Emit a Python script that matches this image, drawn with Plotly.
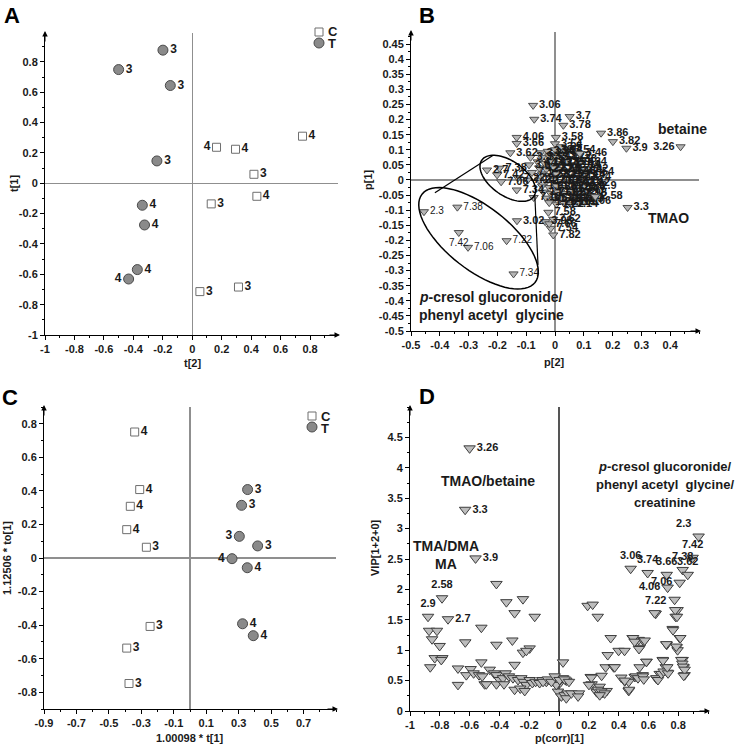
import math
import plotly.graph_objects as go

W, H = 740, 750
FONT = "Liberation Sans, Arial, sans-serif"
INK = "#1a1a1a"

# ---------------- Panel A : scores t[2] vs t[1] ----------------
a_T_x = [-0.199, -0.5, -0.149, -0.24, -0.339, -0.324, -0.373, -0.432]
a_T_y = [0.877, 0.749, 0.644, 0.147, -0.145, -0.275, -0.569, -0.631]
a_T_lab = ["3", "3", "3", "3", "4", "4", "4", "4"]
a_T_pos = ["middle right"] * 7 + ["middle left"]
a_C_x = [0.749, 0.165, 0.294, 0.419, 0.439, 0.129, 0.052, 0.314]
a_C_y = [0.31, 0.237, 0.224, 0.059, -0.086, -0.136, -0.714, -0.684]
a_C_lab = ["4", "4", "4", "3", "4", "3", "3", "3"]
a_C_pos = ["middle right", "middle left"] + ["middle right"] * 6

# ---------------- Panel B : loadings p[2] vs p[1] ----------------
b_x = [-0.076, -0.072, 0.051, 0.029, 0.003, -0.133, -0.133, -0.155, 0.086, 0.16,
       0.201, 0.248, 0.436, 0.252, 0.14,
       -0.236, -0.193, -0.201, -0.187, -0.129, -0.133, -0.074,
       -0.132, -0.034, -0.023, -0.006, -0.015, -0.006, -0.02]
b_y = [0.247, 0.201, 0.21, 0.181, 0.141, 0.141, 0.121, 0.09, 0.088, 0.155,
       0.127, 0.105, 0.110, -0.091, -0.055,
       0.033, 0.039, 0.017, -0.006, 0.007, -0.033, -0.058,
       -0.135, -0.138, -0.107, -0.13, -0.16, -0.182, -0.145]
b_lab = ["3.06", "3.74", "3.7", "3.78", "3.58", "4.06", "3.66", "3.62", "3.46", "3.86",
         "3.82", "3.9", "3.26", "3.3", "2.58",
         "2.7", "7.38", "7.42", "7.06", "7.22", "7.34", "7.18",
         "3.02", "3.98", "7.58", "7.62", "7.54", "7.82", "7.66"]
b_pos = ["middle right"] * 12 + ["middle left"] + ["middle right"] * 16

# dense cluster around the origin
bc_x = [-0.05, -0.025, 0.0, 0.025, 0.045,
        -0.045, -0.02, 0.005, 0.03, 0.05,
        -0.06, -0.035, -0.01, 0.015, 0.04, 0.06,
        -0.055, -0.03, -0.005, 0.02, 0.045, 0.07, 0.09,
        -0.045, -0.02, 0.005, 0.03, 0.055, 0.08, 0.1,
        -0.055, -0.03, -0.005, 0.02, 0.045, 0.07, 0.095,
        -0.045, -0.02, 0.005, 0.03, 0.055, 0.08, 0.1,
        -0.04, -0.015, 0.01, 0.035, 0.06, 0.085, 0.1,
        -0.03, -0.005, 0.02, 0.045, 0.07, 0.095,
        -0.02, 0.005, 0.03, 0.055, 0.08, 0.1,
        -0.085, -0.09, -0.08, -0.095, 0.0, 0.02, 0.065, 0.085, 0.11, 0.14]
bc_y = [0.09, 0.095, 0.1, 0.095, 0.1,
        0.075, 0.08, 0.075, 0.08, 0.07,
        0.06, 0.055, 0.06, 0.055, 0.06, 0.05,
        0.04, 0.035, 0.04, 0.035, 0.03, 0.03, 0.035,
        0.02, 0.015, 0.02, 0.015, 0.01, 0.015, 0.01,
        0.0, -0.005, 0.0, -0.005, -0.01, -0.005, -0.01,
        -0.02, -0.025, -0.02, -0.025, -0.03, -0.025, -0.02,
        -0.04, -0.045, -0.04, -0.045, -0.05, -0.045, -0.04,
        -0.06, -0.065, -0.06, -0.065, -0.06, -0.065,
        -0.075, -0.08, -0.075, -0.08, -0.075, -0.07,
        0.075, 0.05, 0.025, 0.0, 0.12, 0.11, 0.05, 0.06, 0.026, -0.022]
bc_lab = ["3.22", "3.98", "3.94", "4.1", "3.54",
          "3.5", "3.42", "3.34", "3.22", "3.38",
          "4.14", "4.02", "3.18", "3.1", "3.14", "2.94",
          "4.22", "2.62", "2.66", "2.5", "2.46", "2.54", "2.42",
          "2.38", "2.34", "2.26", "2.22", "2.18", "2.14", "2.74",
          "2.1", "2.06", "2.02", "1.98", "1.94", "2.78", "2.82",
          "1.9", "1.86", "1.82", "1.78", "1.74", "2.86", "2.9",
          "1.7", "1.66", "1.62", "1.58", "1.54", "2.98", "2.7",
          "1.5", "1.46", "1.42", "1.38", "1.34", "1.3",
          "1.26", "1.22", "1.18", "1.14", "1.1", "1.06",
          "3.3", "3.6", "7.1", "7.14", "3.54", "3.5", "3.14", "1.34", "2.54", "2.9"]

# points in the large ellipse (smaller, regular-weight labels)
bs_x = [-0.455, -0.339, -0.334, -0.302, -0.168, -0.144]
bs_y = [-0.105, -0.09, -0.174, -0.223, -0.201, -0.311]
bs_lab = ["2.3", "7.38", "7.42", "7.06", "7.22", "7.34"]
bs_pos = ["middle right", "middle right", "bottom center", "middle right", "middle right", "middle right"]

# ---------------- Panel C : t[1] vs to[1] ----------------
c_C_x = [-0.341, -0.31, -0.368, -0.39, -0.269, -0.246, -0.39, -0.376]
c_C_y = [0.751, 0.408, 0.308, 0.169, 0.064, -0.408, -0.537, -0.748]
c_C_lab = ["4", "4", "4", "4", "3", "3", "3", "3"]
c_C_pos = ["middle right"] * 8
c_T_x = [0.355, 0.318, 0.304, 0.417, 0.259, 0.353, 0.324, 0.39]
c_T_y = [0.408, 0.314, 0.129, 0.072, -0.004, -0.058, -0.392, -0.463]
c_T_lab = ["3", "3", "3", "3", "4", "4", "4", "4"]
c_T_pos = ["middle right", "middle right", "middle left", "middle right",
           "middle left", "middle right", "middle right", "middle right"]

# ---------------- Panel D : p(corr)[1] vs VIP ----------------
d_x = [-0.60, -0.63, -0.56, -0.785, -0.879, -0.745,
       0.937, 0.897, 0.481, 0.595, 0.723, 0.83, 0.864, 0.81, 0.729, 0.649,
       -0.42, -0.353, -0.242, -0.298, -0.163, -0.521, -0.872, -0.819, -0.852, -0.801,
       -0.629, -0.42, -0.313, -0.197, -0.242, -0.219, -0.834, -0.783, -0.79, -0.864,
       -0.521, -0.298, -0.678, -0.678,
       -0.593, -0.622, -0.573, -0.537, -0.515, -0.499, -0.465, -0.436, -0.42, -0.398,
       -0.376, -0.358, -0.336, -0.309, -0.275, -0.253, -0.237, -0.219, -0.197, -0.179,
       -0.157, -0.13, -0.112, -0.085, -0.063, -0.036, -0.013, 0.009, 0.027, 0.049,
       -0.298, -0.26, -0.23, -0.42, -0.369, -0.488,
       -0.007, 0.016, 0.038, 0.06, 0.027,
       0.776, 0.796, 0.783, 0.763, 0.81, 0.723, 0.79, 0.796, 0.83, 0.837, 0.843,
       0.696, 0.716, 0.729, 0.676, 0.655,
       0.588, 0.541, 0.561, 0.508, 0.441, 0.468,
       0.347, 0.494, 0.535, 0.568, 0.4, 0.44, 0.541,
       0.327, 0.313, 0.367, 0.286, 0.213, 0.219, 0.293, 0.253, 0.32, 0.468, 0.273,
       0.192, 0.226, 0.26,
       0.497, 0.508, 0.575, 0.537, 0.374, 0.217, 0.201, 0.586,
       0.418, 0.441, 0.47, 0.515, 0.53, 0.564, 0.569,
       0.653, 0.664, 0.687, 0.702, 0.732, 0.727, 0.698,
       0.72, 0.787, 0.814, 0.765, 0.78, 0.792, 0.642,
       0.821, 0.828, 0.832, 0.843, 0.837,
       0.262, 0.284, 0.306, 0.273,
       -0.018, 0.049, 0.083, 0.134, 0.128, -0.107, -0.074, -0.051, -0.029, 0.004, 0.038, 0.067]
d_y = [4.32, 3.31, 2.51, 1.855, 1.55, 1.51,
       2.87, 2.52, 2.34, 2.27, 2.24, 2.32, 2.24, 2.11, 2.03, 1.6,
       2.09, 1.79, 1.84, 1.61, 1.55, 1.37, 1.32, 1.32, 1.18, 1.07,
       1.13, 1.09, 1.16, 1.03, 0.96, 0.99, 0.87, 0.87, 0.84, 0.72,
       0.8, 0.76, 0.7, 0.43,
       0.69, 0.59, 0.62, 0.59, 0.57, 0.44, 0.68, 0.62, 0.59, 0.51,
       0.54, 0.62, 0.57, 0.54, 0.51, 0.54, 0.48, 0.43, 0.51, 0.46,
       0.48, 0.46, 0.51, 0.48, 0.51, 0.48, 0.51, 0.47, 0.54, 0.5,
       0.35, 0.37, 0.33, 0.44, 0.44, 0.44,
       0.32, 0.24, 0.26, 0.29, 0.8,
       1.83, 1.66, 1.55, 1.35, 1.2, 1.09, 1.05, 1.0, 0.84, 0.72, 0.59,
       0.84, 0.72, 0.63, 0.61, 0.53,
       0.81, 0.72, 0.59, 0.56, 0.49, 0.48,
       1.2, 1.2, 1.17, 1.15, 0.99, 0.99, 1.04,
       0.92, 0.72, 0.72, 0.58, 0.56, 0.44, 0.3, 0.31, 0.33, 0.33, 0.4,
       1.73, 1.75, 1.55,
       1.2, 1.14, 1.16, 1.02, 0.72, 0.55, 0.43, 0.81,
       0.55, 0.5, 0.35, 0.57, 0.54, 0.57, 0.52,
       0.54, 0.51, 0.61, 0.65, 0.62, 0.72, 0.83,
       1.1, 1.06, 1.2, 1.33, 1.66, 1.55, 1.61,
       0.84, 0.78, 0.73, 0.68, 0.58,
       0.35, 0.32, 0.29, 0.26,
       0.43, 0.21, 0.29, 0.29, 0.24, 0.48, 0.52, 0.48, 0.57, 0.51, 0.52, 0.48]
d_lab_named = ["3.26", "3.3", "3.9", "2.58", "2.9", "2.7",
               "2.3", "7.42", "3.06", "3.74", "3.66", "7.38", "3.62", "7.06", "4.06", "7.22"]
d_pos_named = ["middle right", "middle right", "middle right", "top center", "top center", "middle right",
               "top left", "top center", "top center", "top center", "top center", "top center",
               "top center", "middle left", "middle left", "top center"]
d_lab = d_lab_named + [""] * (len(d_x) - len(d_lab_named))
d_pos = d_pos_named + ["middle right"] * (len(d_x) - len(d_lab_named))

# ---------------- tick labels ----------------
a_ticks = [-1, -0.8, -0.6, -0.4, -0.2, 0, 0.2, 0.4, 0.6, 0.8]
a_ticktext = ["-1", "-0.8", "-0.6", "-0.4", "-0.2", "0", "0.2", "0.4", "0.6", "0.8"]
b_xticks = [-0.5, -0.4, -0.3, -0.2, -0.1, 0, 0.1, 0.2, 0.3, 0.4]
b_xtext = ["-0.5", "-0.4", "-0.3", "-0.2", "-0.1", "0", "0.1", "0.2", "0.3", "0.4"]
b_yticks = [-0.5, -0.45, -0.4, -0.35, -0.3, -0.25, -0.2, -0.15, -0.1, -0.05, 0,
            0.05, 0.1, 0.15, 0.2, 0.25, 0.3, 0.35, 0.4, 0.45]
b_ytext = ["-0.5", "-0.45", "-0.4", "-0.35", "-0.3", "-0.25", "-0.2", "-0.15", "-0.1", "-0.05", "0",
           "0.05", "0.1", "0.15", "0.2", "0.25", "0.3", "0.35", "0.4", "0.45"]
c_xticks = [-0.9, -0.7, -0.5, -0.3, -0.1, 0.1, 0.3, 0.5, 0.7]
c_xtext = ["-0.9", "-0.7", "-0.5", "-0.3", "-0.1", "0.1", "0.3", "0.5", "0.7"]
c_yticks = [-0.8, -0.6, -0.4, -0.2, 0, 0.2, 0.4, 0.6, 0.8]
c_ytext = ["-0.8", "-0.6", "-0.4", "-0.2", "0", "0.2", "0.4", "0.6", "0.8"]
d_xticks = a_ticks
d_xtext = a_ticktext
d_yticks = [0, 0.5, 1, 1.5, 2, 2.5, 3, 3.5, 4, 4.5]
d_ytext = ["0", "0.5", "1", "1.5", "2", "2.5", "3", "3.5", "4", "4.5"]

# ---------------- layout geometry (pixels) ----------------
DOM = {
    "A": dict(x=(45, 338), y=(33, 335), xr=(-1, 0.99), yr=(-1, 0.99)),
    "B": dict(x=(411, 699), y=(32, 331), xr=(-0.5, 0.5), yr=(-0.5, 0.49)),
    "C": dict(x=(44, 336), y=(407, 709), xr=(-0.9, 0.9), yr=(-0.9, 0.9)),
    "D": dict(x=(410, 708), y=(407, 711), xr=(-1, 1.0), yr=(0, 5)),
}


def px(x):
    return x / W


def py(y):
    return 1 - y / H


tickfont = dict(family=FONT, size=11, color=INK, weight="bold")


def make_axis(dom, rng, tv, tt, anchor, minor_dt, zcol="#8f8f8f", zw=1.3):
    return dict(
        domain=dom, range=list(rng), tickmode="array", tickvals=tv, ticktext=tt,
        showline=True, linecolor="black", linewidth=1, ticks="outside", ticklen=4,
        tickcolor="black", tickwidth=1, showgrid=False, zeroline=True,
        zerolinecolor=zcol, zerolinewidth=zw, tickfont=tickfont, anchor=anchor,
        fixedrange=True, automargin=False,
        minor=dict(ticks="outside", ticklen=2, tickcolor="black", dtick=minor_dt, tick0=0, showgrid=False),
    )


layout = dict(width=W, height=H, margin=dict(l=0, r=0, t=0, b=0, pad=0, autoexpand=False),
              plot_bgcolor="white", paper_bgcolor="white", showlegend=False,
              font=dict(family=FONT, color=INK), template="none")

names = ["A", "B", "C", "D"]
xt = {"A": (a_ticks, a_ticktext), "B": (b_xticks, b_xtext), "C": (c_xticks, c_xtext), "D": (d_xticks, d_xtext)}
yt = {"A": (a_ticks, a_ticktext), "B": (b_yticks, b_ytext), "C": (c_yticks, c_ytext), "D": (d_yticks, d_ytext)}
xminor = {"A": 0.1, "B": 0.05, "C": 0.1, "D": 0.1}
yminor = {"A": 0.1, "B": 0.025, "C": 0.1, "D": 0.25}
for i, n in enumerate(names, start=1):
    g = DOM[n]
    xd = [px(g["x"][0]), px(g["x"][1])]
    yd = [py(g["y"][1]), py(g["y"][0])]
    sfx = "" if i == 1 else str(i)
    zc = "#555555" if n == "D" else "#8f8f8f"
    layout["xaxis" + sfx] = make_axis(xd, g["xr"], *xt[n], "y" + sfx, xminor[n], zcol=zc, zw=1.5 if n == "D" else 1.3)
    layout["yaxis" + sfx] = make_axis(yd, g["yr"], *yt[n], "x" + sfx, yminor[n])

fig = go.Figure(layout=layout)

circ = dict(symbol="circle", size=10, color="#8a8a8a", line=dict(color="#4a4a4a", width=1))
sq = dict(symbol="square", size=8, color="white", line=dict(color="#6e6e6e", width=1))
tri_b = dict(symbol="triangle-down", size=8, color="#b5b5b5", line=dict(color="#4d4d4d", width=1))
tri_d = dict(symbol="triangle-down", size=10, color="#bdbdbd", line=dict(color="#3d3d3d", width=1))
lab11 = dict(family=FONT, size=11, color=INK, weight="bold")
lab12 = dict(family=FONT, size=12, color=INK, weight="bold")

# A
fig.add_trace(go.Scatter(x=a_C_x, y=a_C_y, mode="markers+text", text=a_C_lab, textposition=a_C_pos,
                         marker=sq, textfont=lab12, xaxis="x", yaxis="y", cliponaxis=False, name="C"))
fig.add_trace(go.Scatter(x=a_T_x, y=a_T_y, mode="markers+text", text=a_T_lab, textposition=a_T_pos,
                         marker=circ, textfont=lab12, xaxis="x", yaxis="y", cliponaxis=False, name="T"))
# B
fig.add_trace(go.Scatter(x=bc_x, y=bc_y, mode="markers+text", text=bc_lab, textposition="middle right",
                         marker=tri_b, textfont=lab11, xaxis="x2", yaxis="y2", cliponaxis=False))
fig.add_trace(go.Scatter(x=b_x, y=b_y, mode="markers+text", text=b_lab, textposition=b_pos,
                         marker=tri_b, textfont=lab11, xaxis="x2", yaxis="y2", cliponaxis=False))
fig.add_trace(go.Scatter(x=bs_x, y=bs_y, mode="markers+text", text=bs_lab, textposition=bs_pos,
                         marker=tri_b, textfont=dict(family=FONT, size=10, color=INK),
                         xaxis="x2", yaxis="y2", cliponaxis=False))
# C
fig.add_trace(go.Scatter(x=c_C_x, y=c_C_y, mode="markers+text", text=c_C_lab, textposition=c_C_pos,
                         marker=sq, textfont=lab12, xaxis="x3", yaxis="y3", cliponaxis=False))
fig.add_trace(go.Scatter(x=c_T_x, y=c_T_y, mode="markers+text", text=c_T_lab, textposition=c_T_pos,
                         marker=circ, textfont=lab12, xaxis="x3", yaxis="y3", cliponaxis=False))
# D
fig.add_trace(go.Scatter(x=d_x, y=d_y, mode="markers+text", text=d_lab, textposition=d_pos,
                         marker=tri_d, textfont=lab11, xaxis="x4", yaxis="y4", cliponaxis=False))

ann = []
shapes = []


def note(x, y, text, font, xref="paper", yref="paper", xanchor="center", angle=0):
    return dict(x=x, y=y, xref=xref, yref=yref, text=text, showarrow=False, font=font,
                xanchor=xanchor, yanchor="middle", textangle=angle)


# axis arrows
for n in names:
    g = DOM[n]
    x0, x1 = g["x"]
    y0, y1 = g["y"]
    ann.append(dict(x=px(x1 + 2), y=py(y1), xref="paper", yref="paper", ax=-12, ay=0, text="",
                    showarrow=True, arrowhead=2, arrowsize=1.1, arrowwidth=1, arrowcolor="black"))
    ann.append(dict(x=px(x0), y=py(y0 - 2), xref="paper", yref="paper", ax=0, ay=12, text="",
                    showarrow=True, arrowhead=2, arrowsize=1.1, arrowwidth=1, arrowcolor="black"))

# panel letters
for letter, (lx, ly) in {"A": (12, 15), "B": (427, 15), "C": (10, 397), "D": (427, 396)}.items():
    ann.append(note(px(lx), py(ly), letter, dict(family=FONT, size=22, color="black", weight="bold")))

# axis titles
tfont = dict(family=FONT, size=11, color=INK, weight="bold")
for txt, (tx, ty), ang in [("t[1]", (14, 184), -90), ("t[2]", (192, 363), 0),
                           ("p[1]", (368, 180), -90), ("p[2]", (554, 362), 0),
                           ("1.12506 * to[1]", (7, 558), -90), ("1.00098 * t[1]", (190, 738), 0),
                           ("VIP[1+2+0]", (375, 548), -90), ("p(corr)[1]", (559, 738), 0)]:
    ann.append(note(px(tx), py(ty), txt, tfont, angle=ang))

# legends (A and C)
lfont = dict(family=FONT, size=13, color=INK, weight="bold")
for (sx, sy), (cx_, cy_) in [((319, 32), (319, 43)), ((312, 416), (312, 427))]:
    shapes.append(dict(type="rect", xref="paper", yref="paper", x0=px(sx - 4), x1=px(sx + 4),
                       y0=py(sy + 4), y1=py(sy - 4), line=dict(color="#6e6e6e", width=1), fillcolor="white"))
    shapes.append(dict(type="circle", xref="paper", yref="paper", x0=px(cx_ - 5), x1=px(cx_ + 5),
                       y0=py(cy_ + 5), y1=py(cy_ - 5), line=dict(color="#4a4a4a", width=1), fillcolor="#8a8a8a"))
    ann.append(note(px(sx + 7), py(sy), "C", lfont, xanchor="left"))
    ann.append(note(px(cx_ + 7), py(cy_ + 1), "T", lfont, xanchor="left"))

# panel B text annotations
bfont = dict(family=FONT, size=14, color=INK, weight="bold")
dfont = dict(family=FONT, size=13, color=INK, weight="bold")
ann += [
    note(0.441, 0.169, "betaine", bfont, "x2", "y2"),
    note(0.393, -0.127, "TMAO", bfont, "x2", "y2"),
    note(-0.478, -0.386, "<i>p</i>-cresol glucoronide/", bfont, "x2", "y2", xanchor="left"),
    note(-0.478, -0.447, "phenyl acetyl\u00a0 glycine", bfont, "x2", "y2", xanchor="left"),
]
# panel D text annotations
ann += [
    note(-0.477, 3.78, "TMAO/betaine", bfont, "x4", "y4"),
    note(-0.756, 2.71, "TMA/DMA", bfont, "x4", "y4"),
    note(-0.756, 2.41, "MA", bfont, "x4", "y4"),
    note(0.71, 4.02, "<i>p</i>-cresol glucoronide/", dfont, "x4", "y4"),
    note(0.71, 3.73, "phenyl acetyl\u00a0 glycine/", dfont, "x4", "y4"),
    note(0.71, 3.43, "creatinine", dfont, "x4", "y4"),
]

# ellipses and connectors in panel B (sizes given in screen pixels)
gB = DOM["B"]
sxB = (gB["x"][1] - gB["x"][0]) / (gB["xr"][1] - gB["xr"][0])
syB = (gB["y"][1] - gB["y"][0]) / (gB["yr"][1] - gB["yr"][0])


def ellipse_path(cx, cy, a, b, phi_deg, n=72):
    phi = math.radians(phi_deg)
    pts = []
    for k in range(n):
        t = 2 * math.pi * k / n
        dx = a * math.cos(t) * math.cos(phi) - b * math.sin(t) * math.sin(phi)
        dy = a * math.cos(t) * math.sin(phi) + b * math.sin(t) * math.cos(phi)
        pts.append((cx + dx / sxB, cy - dy / syB))
    return "M " + " L ".join(f"{x:.5f},{y:.5f}" for x, y in pts) + " Z"


eline = dict(color="black", width=1.5)
shapes.append(dict(type="path", xref="x2", yref="y2", path=ellipse_path(-0.2655, -0.193, 71.7, 31.7, 38), line=eline))
shapes.append(dict(type="path", xref="x2", yref="y2", path=ellipse_path(-0.164, 0.0055, 31.7, 17.3, 35), line=eline))
shapes.append(dict(type="line", xref="x2", yref="y2", x0=-0.216, y0=0.081, x1=-0.417, y1=-0.042, line=dict(color="black", width=1.2)))
shapes.append(dict(type="line", xref="x2", yref="y2", x0=-0.070, y0=-0.053, x1=-0.059, y1=-0.281, line=dict(color="black", width=1.2)))

fig.update_layout(annotations=ann, shapes=shapes)
fig.write_html("out.html", config={"displayModeBar": False, "staticPlot": True},
               post_script="document.body.style.margin='0px';")
